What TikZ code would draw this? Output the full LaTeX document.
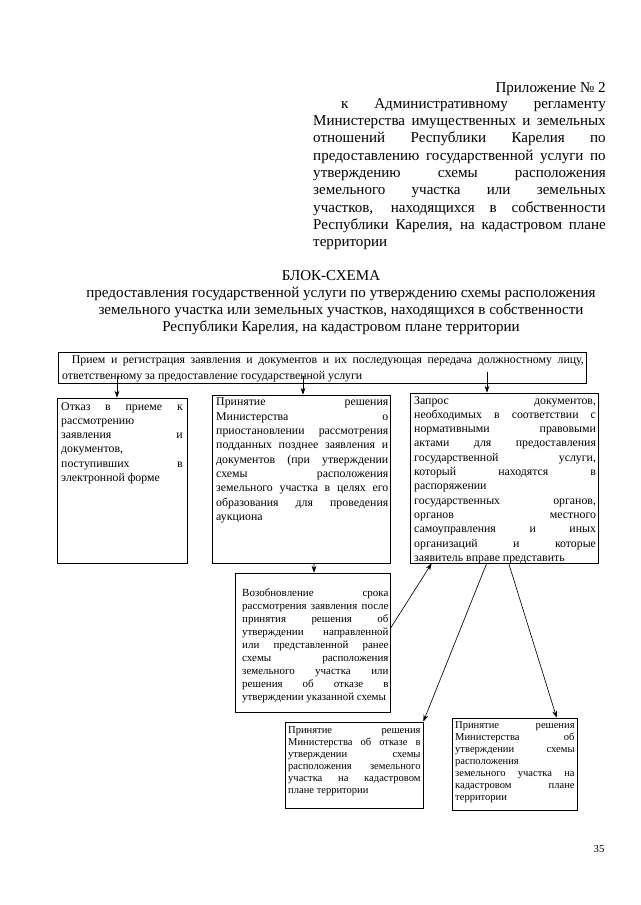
\documentclass[tikz,border=0pt]{standalone}
\usepackage{fontspec}
\setmainfont{Liberation Serif}
\usetikzlibrary{arrows.meta,calc,fit}
\newcommand\jst{\spaceskip=0.25em plus 40em\relax\hyphenpenalty=10000\tolerance=10000\hbadness=10000}
\tikzset{
  box/.style={draw, line width=0.6pt, inner sep=0pt},
  txt/.style={inner sep=0pt, align=justify, anchor=north west, font=\fontsize{11}{13.3}\selectfont},
  stxt/.style={inner sep=0pt, align=justify, anchor=north west, font=\fontsize{9.8}{11.2}\selectfont},
  arr/.style={line width=0.6pt, -{Stealth[length=6.5pt,width=4.5pt]}},
}
\begin{document}
\begin{tikzpicture}[x=0.9297pt,y=-0.9297pt]
\useasboundingbox (0,0) rectangle (640,905);

% header
\node[inner sep=0pt, anchor=base east, font=\fontsize{14}{16.1}\selectfont] (app) at (606,92)
  {Приложение №~2};
\node[inner sep=0pt, anchor=north east, text width=272pt, align=justify,
      font=\fontsize{14}{16.1}\selectfont] (hdr) at (606,98)
  {\jst\hspace*{26pt}к Административному регламенту\linebreak
   Министерства имущественных и земельных\linebreak
   отношений Республики Карелия по\linebreak
   предоставлению государственной услуги по\linebreak
   утверждению схемы расположения\linebreak
   земельного участка или земельных\linebreak
   участков, находящихся в собственности\linebreak
   Республики Карелия, на кадастровом плане\linebreak
   территории};

% title
\node[inner sep=0pt, font=\fontsize{14}{16.1}\selectfont] (title) at (331,276) {БЛОК-СХЕМА};
\node[inner sep=0pt, align=center, font=\fontsize{14}{16.1}\selectfont] (sub) at (341,311)
  {предоставления государственной услуги по утверждению схемы расположения\\
   земельного участка или земельных участков, находящихся в собственности\\
   Республики Карелия, на кадастровом плане территории};

% boxes
\node[box, fit={(58,352) (586,383)}] (top) {};
\node[box, fit={(57,398) (187,563)}] (otk) {};
\node[box, fit={(212,395) (390,563)}] (mid) {};
\node[box, fit={(410,393) (598,563)}] (rb) {};
\node[box, fit={(235,573) (390,712)}] (voz) {};
\node[box, fit={(285,722) (423,808)}] (bl) {};
\node[box, fit={(452,718) (577,810)}] (br) {};

% texts
\node[txt, text width=485pt, font=\fontsize{11}{14}\selectfont] (topt) at (62,356)
  {\jst\hspace*{9pt}Прием и регистрация заявления и документов и их последующая передача должностному лицу,\linebreak
   ответственному за предоставление государственной услуги};
\node[txt, text width=113pt] (otkt) at (61,402)
  {\jst Отказ в приеме к\linebreak рассмотрению\linebreak заявления и\linebreak документов,\linebreak поступивших в\linebreak электронной форме};
\node[txt, text width=160pt] (midt) at (216,398)
  {\jst Принятие решения\linebreak Министерства о\linebreak приостановлении рассмотрения\linebreak
   подданных позднее заявления и\linebreak документов (при утверждении\linebreak схемы расположения\linebreak
   земельного участка в целях его\linebreak образования для проведения\linebreak аукциона};
\node[txt, text width=169pt] (rbt) at (414,396)
  {\jst Запрос документов,\linebreak необходимых в соответствии с\linebreak нормативными правовыми\linebreak
   актами для предоставления\linebreak государственной услуги,\linebreak который находятся в\linebreak
   распоряжении\linebreak государственных органов,\linebreak органов местного\linebreak
   самоуправления и иных\linebreak организаций и которые\linebreak заявитель вправе представить};
\node[txt, text width=136pt, font=\fontsize{10.2}{12.1}\selectfont] (vozt) at (242,588)
  {\jst Возобновление срока\linebreak рассмотрения заявления после\linebreak принятия решения об\linebreak
   утверждении направленной\linebreak или представленной ранее\linebreak схемы расположения\linebreak
   земельного участка или\linebreak решения об отказе в\linebreak утверждении указанной схемы};
\node[stxt, text width=123pt] (blt) at (288,726)
  {\jst Принятие решения\linebreak Министерства об отказе в\linebreak утверждении схемы\linebreak
   расположения земельного\linebreak участка на кадастровом\linebreak плане территории};
\node[stxt, text width=111pt] (brt) at (455,721)
  {\jst Принятие решения\linebreak Министерства об\linebreak утверждении схемы\linebreak
   расположения\linebreak земельного участка на\linebreak кадастровом плане\linebreak территории};

% connectors
\draw[arr] ($(otk.north)+(-5,-22)$) -- ($(otk.north)+(-5,0)$);
\draw[arr] ($(mid.north)+(2,-19)$) -- ($(mid.north)+(2,0)$);
\draw[arr] ($(rb.north)+(-17,-21)$) -- ($(rb.north)+(-17,0)$);
\draw[arr] ($(mid.south)+(13,0)$) -- ($(voz.north)+(1.5,0)$);
\draw[arr] ($(voz.east)+(0,-14)$) -- ($(rb.south west)+(22,0)$);
\draw[arr] ($(rb.south west)+(77,0)$) -- (bl.north east);
\draw[arr] ($(rb.south west)+(99,0)$) -- ($(br.north west)+(105,0)$);

% page number
\node[inner sep=0pt, font=\fontsize{10}{12}\selectfont] (pg) at (599,849) {35};
\end{tikzpicture}
\end{document}
